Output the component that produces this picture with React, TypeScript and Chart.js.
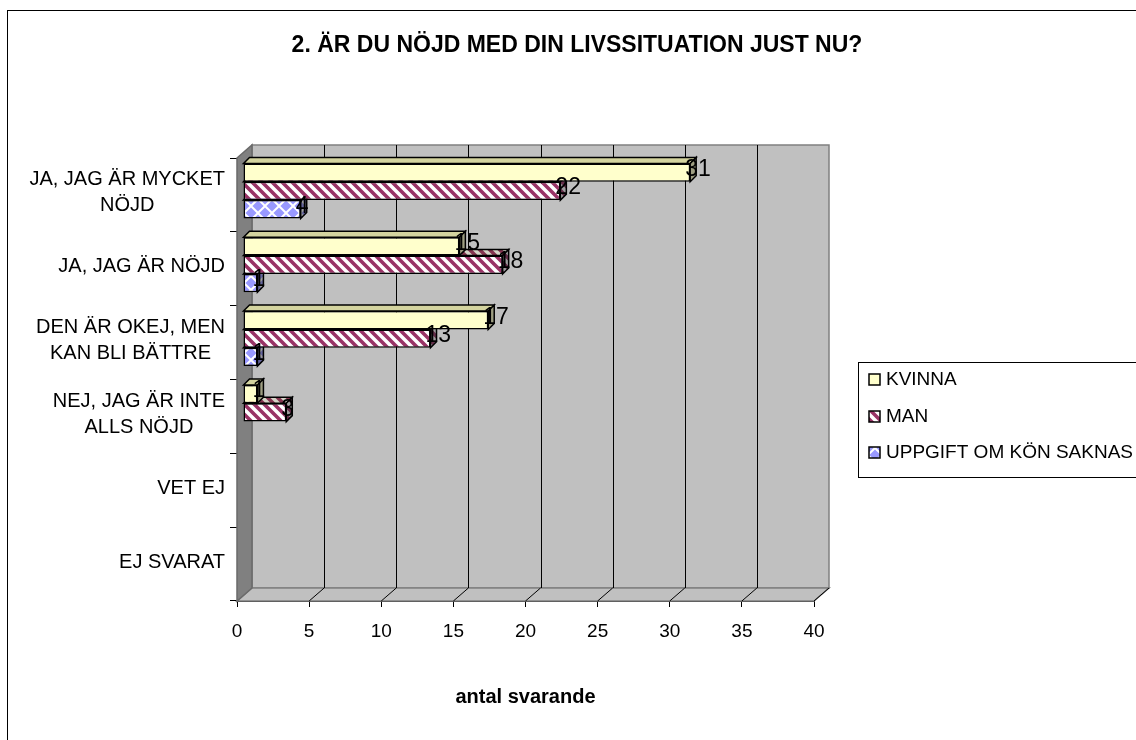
import React, { useEffect, useRef } from 'react';
import { Chart, registerables } from 'chart.js';

Chart.register(...registerables);

// ---------- data ----------
const categories: (string | string[])[] = [
  ['JA, JAG ÄR MYCKET', 'NÖJD'],
  'JA, JAG ÄR NÖJD',
  ['DEN ÄR OKEJ, MEN', 'KAN BLI BÄTTRE'],
  ['NEJ, JAG ÄR INTE', 'ALLS NÖJD'],
  'VET EJ',
  'EJ SVARAT',
];
const seriesNames = ['KVINNA', 'MAN', 'UPPGIFT OM KÖN SAKNAS'];
const kvinna = [31, 15, 17, 1, 0, 0];
const man = [22, 18, 13, 3, 0, 0];
const uppgift = [4, 1, 1, 0, 0, 0];
const xMin = 0;
const xMax = 40;
const xStep = 5;
const chartTitle = '2. ÄR DU NÖJD MED DIN LIVSSITUATION JUST NU?';
const xAxisTitle = 'antal svarande';

// ---------- style ----------
const FONT = '"Liberation Sans", Arial, sans-serif';
const WALL_DX = 15;
const WALL_DY = 13;
const BAR_SHIFT_X = 6;
const BAR_SHIFT_Y = -4;
const BAR_DEPTH = 6;

function makeStripePattern(ctx: CanvasRenderingContext2D): CanvasPattern {
  const s = 10;
  const c = document.createElement('canvas');
  c.width = s;
  c.height = s;
  const g = c.getContext('2d')!;
  g.fillStyle = '#ffffff';
  g.fillRect(0, 0, s, s);
  g.strokeStyle = '#993366';
  g.lineWidth = 3.6;
  g.beginPath();
  for (let k = -2; k <= 2; k++) {
    g.moveTo(k * s - s, -s);
    g.lineTo(k * s + 2 * s, 2 * s);
  }
  g.stroke();
  return ctx.createPattern(c, 'repeat')!;
}

function makeDiamondPattern(ctx: CanvasRenderingContext2D): CanvasPattern {
  const s = 14;
  const c = document.createElement('canvas');
  c.width = s;
  c.height = s;
  const g = c.getContext('2d')!;
  g.fillStyle = '#ffffff';
  g.fillRect(0, 0, s, s);
  g.fillStyle = '#9999FF';
  const r = 5.6;
  const centers = [
    [s / 2, s / 2],
    [0, 0],
    [s, 0],
    [0, s],
    [s, s],
  ];
  for (const [cx, cy] of centers) {
    g.beginPath();
    g.moveTo(cx, cy - r);
    g.lineTo(cx + r, cy);
    g.lineTo(cx, cy + r);
    g.lineTo(cx - r, cy);
    g.closePath();
    g.fill();
  }
  return ctx.createPattern(c, 'repeat')!;
}

function poly(ctx: CanvasRenderingContext2D, pts: number[][]) {
  ctx.beginPath();
  ctx.moveTo(pts[0][0], pts[0][1]);
  for (let i = 1; i < pts.length; i++) ctx.lineTo(pts[i][0], pts[i][1]);
  ctx.closePath();
}

const wallPlugin = {
  id: 'wall3d',
  beforeDatasetsDraw(chart: any) {
    const { ctx, chartArea: a, scales } = chart;
    const x = scales.x;
    ctx.save();
    // back wall
    poly(ctx, [
      [a.left + WALL_DX, a.top - WALL_DY],
      [a.right + WALL_DX, a.top - WALL_DY],
      [a.right + WALL_DX, a.bottom - WALL_DY],
      [a.left + WALL_DX, a.bottom - WALL_DY],
    ]);
    ctx.fillStyle = '#C0C0C0';
    ctx.fill();
    ctx.strokeStyle = '#808080';
    ctx.lineWidth = 1.5;
    ctx.stroke();
    // floor
    poly(ctx, [
      [a.left, a.bottom],
      [a.left + WALL_DX, a.bottom - WALL_DY],
      [a.right + WALL_DX, a.bottom - WALL_DY],
      [a.right, a.bottom],
    ]);
    ctx.fillStyle = '#C0C0C0';
    ctx.fill();
    ctx.strokeStyle = '#808080';
    ctx.stroke();
    // side wall
    poly(ctx, [
      [a.left, a.top],
      [a.left + WALL_DX, a.top - WALL_DY],
      [a.left + WALL_DX, a.bottom - WALL_DY],
      [a.left, a.bottom],
    ]);
    ctx.fillStyle = '#808080';
    ctx.fill();
    ctx.strokeStyle = '#6a6a6a';
    ctx.stroke();
    // grid lines on back wall + floor diagonals
    ctx.strokeStyle = '#000000';
    ctx.lineWidth = 1;
    for (let v = xMin + xStep; v < xMax; v += xStep) {
      const px = Math.round(x.getPixelForValue(v)) + 0.5;
      ctx.beginPath();
      ctx.moveTo(px + WALL_DX, a.top - WALL_DY);
      ctx.lineTo(px + WALL_DX, a.bottom - WALL_DY);
      ctx.stroke();
    }
    for (let v = xMin + xStep; v <= xMax; v += xStep) {
      const px = x.getPixelForValue(v);
      ctx.beginPath();
      ctx.moveTo(px, a.bottom);
      ctx.lineTo(px + WALL_DX, a.bottom - WALL_DY);
      ctx.stroke();
    }
    ctx.restore();
    // shift bars into the middle of the depth
    ctx.save();
    ctx.translate(BAR_SHIFT_X, BAR_SHIFT_Y);
  },
  afterDatasetDraw(chart: any, args: any) {
    const { ctx } = chart;
    const ds = chart.data.datasets[args.index];
    const fill = ds.backgroundColor;
    for (const el of args.meta.data) {
      const p = el.getProps(['x', 'y', 'base', 'height'], true);
      const left = Math.min(p.x, p.base);
      const right = Math.max(p.x, p.base);
      if (right - left < 0.5) continue;
      const top = p.y - p.height / 2;
      const bottom = p.y + p.height / 2;
      const d = BAR_DEPTH;
      ctx.save();
      ctx.lineWidth = 1.5;
      ctx.strokeStyle = '#000000';
      // top face
      poly(ctx, [
        [left, top],
        [left + d, top - d],
        [right + d, top - d],
        [right, top],
      ]);
      ctx.fillStyle = fill;
      ctx.fill();
      ctx.fillStyle = 'rgba(60,60,0,0.22)';
      ctx.fill();
      ctx.stroke();
      // side face
      poly(ctx, [
        [right, top],
        [right + d, top - d],
        [right + d, bottom - d],
        [right, bottom],
      ]);
      ctx.fillStyle = fill;
      ctx.fill();
      ctx.fillStyle = 'rgba(40,40,40,0.45)';
      ctx.fill();
      ctx.stroke();
      ctx.restore();
    }
  },
  afterDatasetsDraw(chart: any) {
    const { ctx } = chart;
    // data labels
    ctx.save();
    ctx.font = `23px ${FONT}`;
    ctx.fillStyle = '#000000';
    ctx.textAlign = 'left';
    ctx.textBaseline = 'middle';
    chart.data.datasets.forEach((ds: any, i: number) => {
      const meta = chart.getDatasetMeta(i);
      meta.data.forEach((el: any, j: number) => {
        const v = ds.data[j];
        if (!v) return;
        const p = el.getProps(['x', 'y'], true);
        ctx.fillText(String(v), p.x - 5, p.y - 3);
      });
    });
    ctx.restore();
    ctx.restore(); // undo bar shift
  },
  afterDraw(chart: any) {
    const { ctx, scales } = chart;
    const y = scales.y;
    ctx.save();
    // outer frame
    ctx.strokeStyle = '#000000';
    ctx.lineWidth = 1;
    ctx.strokeRect(7.5, 10.5, 1400, 1000);
    // title
    ctx.fillStyle = '#000000';
    ctx.font = `bold 23px ${FONT}`;
    ctx.textAlign = 'center';
    ctx.textBaseline = 'middle';
    ctx.fillText(chartTitle, 577, 46);
    // x axis title
    ctx.font = `bold 20px ${FONT}`;
    ctx.fillText(xAxisTitle, (scales.x.left + scales.x.right) / 2, 697);
    // category labels: block right-aligned, lines centred
    ctx.font = `20px ${FONT}`;
    const lh = 26;
    const rightEdge = 225;
    chart.data.labels.forEach((lab: any, i: number) => {
      const lines: string[] = Array.isArray(lab) ? lab : [lab];
      const widest = Math.max(...lines.map((l) => ctx.measureText(l).width));
      const cx = rightEdge - widest / 2;
      const cy = y.getPixelForValue(i) - 2;
      lines.forEach((l, k) => {
        ctx.fillText(l, cx, cy + (k - (lines.length - 1) / 2) * lh);
      });
    });
    // legend
    const lx = 858.5;
    const ly = 362.5;
    ctx.strokeStyle = '#000000';
    ctx.lineWidth = 1;
    ctx.strokeRect(lx, ly, 400, 115);
    const rows = [380, 417, 453];
    ctx.textAlign = 'left';
    chart.data.datasets.forEach((ds: any, i: number) => {
      const ry = rows[i];
      ctx.fillStyle = ds.backgroundColor;
      ctx.fillRect(869, ry - 6, 11, 11);
      ctx.strokeStyle = '#000000';
      ctx.lineWidth = 1.5;
      ctx.strokeRect(869, ry - 6, 11, 11);
      ctx.fillStyle = '#000000';
      ctx.font = `19px ${FONT}`;
      ctx.fillText(ds.label, 886, ry);
    });
    ctx.restore();
  },
};

export default function App() {
  const ref = useRef<HTMLCanvasElement>(null);
  useEffect(() => {
    document.body.style.margin = '0';
    const canvas = ref.current!;
    const ctx = canvas.getContext('2d')!;
    const fills: any[] = ['#FFFFCC', makeStripePattern(ctx), makeDiamondPattern(ctx)];
    const values = [kvinna, man, uppgift];
    Chart.defaults.font.family = FONT;
    const chart = new Chart(canvas, {
      type: 'bar',
      data: {
        labels: categories as any,
        datasets: seriesNames.map((name, i) => ({
          label: name,
          data: values[i],
          backgroundColor: fills[i],
          borderColor: '#000000',
          borderWidth: 1.5,
          borderSkipped: false,
          categoryPercentage: 0.745,
          barPercentage: 1,
        })),
      },
      options: {
        indexAxis: 'y',
        animation: false,
        responsive: false,
        devicePixelRatio: 1,
        layout: { padding: { left: 0, top: 158, right: 322, bottom: 0 } },
        plugins: {
          legend: { display: false },
          title: { display: false },
          tooltip: { enabled: false },
        },
        scales: {
          x: {
            type: 'linear',
            min: xMin,
            max: xMax,
            ticks: {
              stepSize: xStep,
              color: '#000000',
              font: { size: 19, family: FONT },
              padding: 13,
            },
            grid: {
              drawOnChartArea: false,
              drawTicks: true,
              tickLength: 6,
              color: '#000000',
            },
            border: { display: true, color: '#000000', width: 1 },
            afterFit: (s: any) => {
              s.height = 139;
            },
          },
          y: {
            type: 'category',
            ticks: { display: false },
            grid: {
              drawOnChartArea: false,
              drawTicks: true,
              tickLength: 7,
              color: '#000000',
              offset: true,
            },
            border: { display: true, color: '#000000', width: 1 },
            afterFit: (s: any) => {
              s.width = 237;
            },
          },
        },
      },
      plugins: [wallPlugin],
    });
    return () => chart.destroy();
  }, []);
  return (
    <div style={{ width: 1136, height: 740, position: 'relative', overflow: 'hidden' }}>
      <canvas ref={ref} width={1136} height={740} style={{ display: 'block' }} />
    </div>
  );
}
